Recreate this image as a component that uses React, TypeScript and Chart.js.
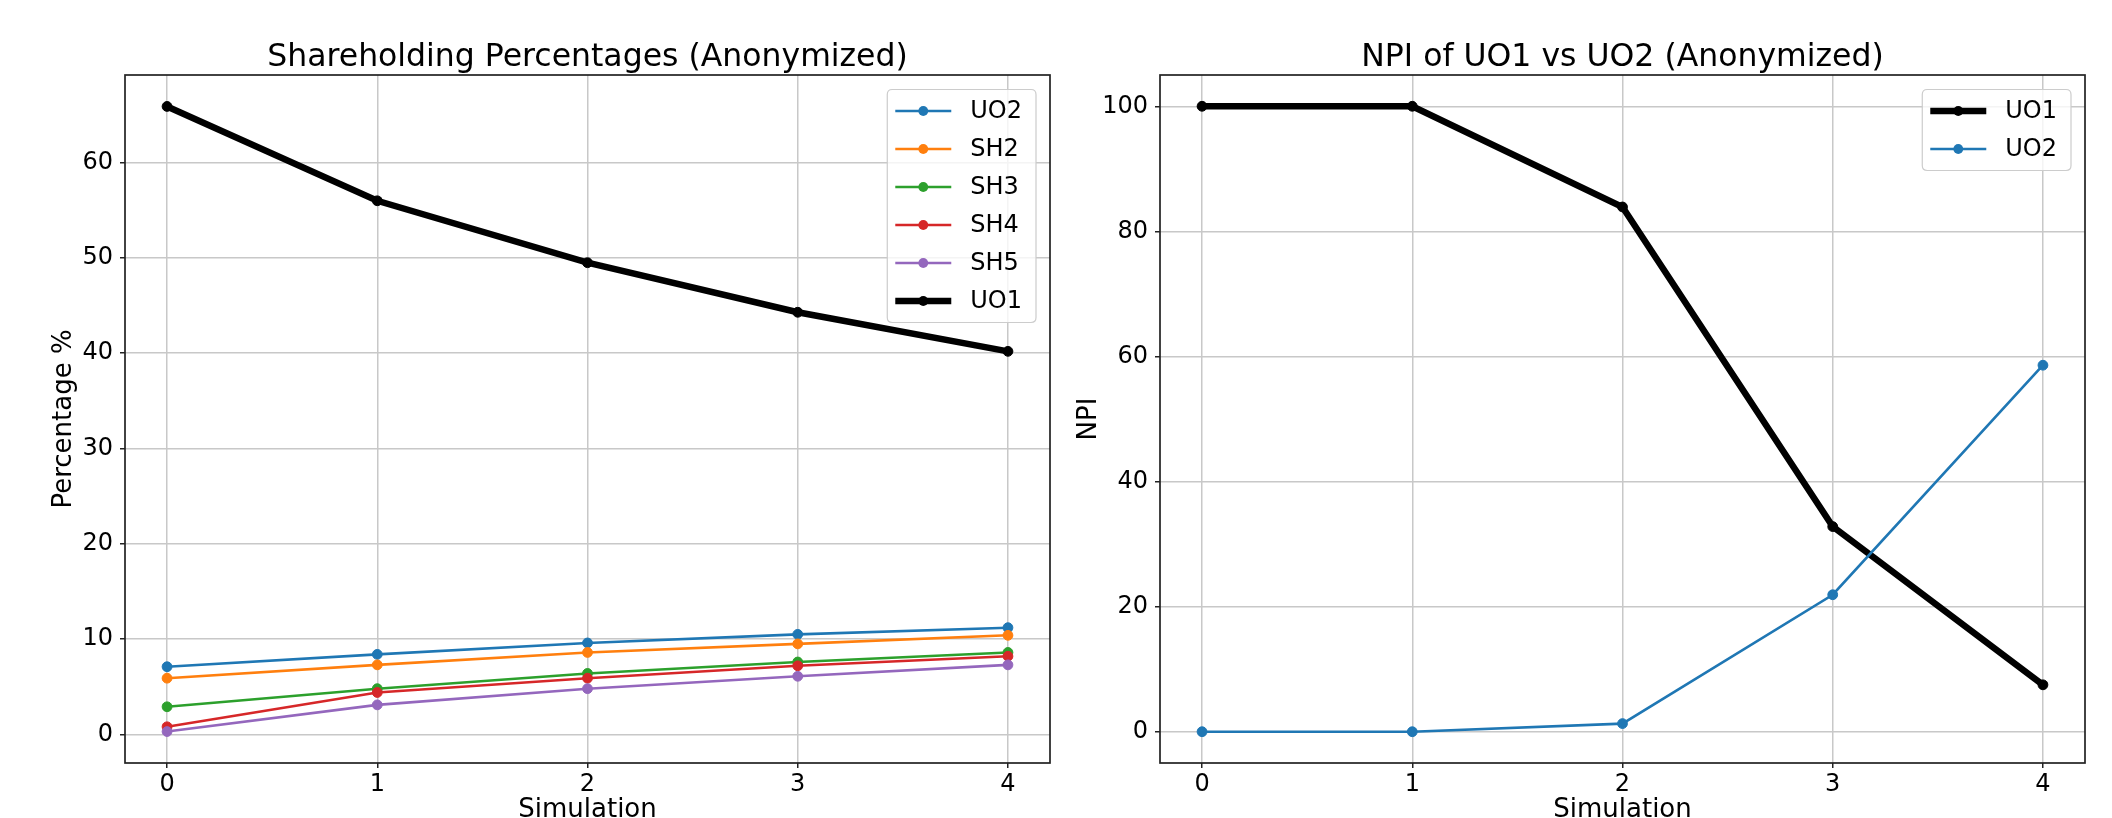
import React, { useEffect, useRef } from "react";
import { Chart, registerables } from "chart.js";

Chart.register(...registerables);
Chart.defaults.font.family = '"DejaVu Sans", sans-serif';
Chart.defaults.color = "#000000";

// ---------- data ----------
const simulations = [0, 1, 2, 3, 4];

const uo2Share = [7.1, 8.4, 9.6, 10.5, 11.2];
const sh2Share = [5.9, 7.3, 8.6, 9.5, 10.4];
const sh3Share = [2.9, 4.8, 6.4, 7.6, 8.6];
const sh4Share = [0.8, 4.4, 5.9, 7.2, 8.2];
const sh5Share = [0.3, 3.1, 4.8, 6.1, 7.3];
const uo1Share = [65.9, 56.0, 49.5, 44.3, 40.2];

const uo1Npi = [100, 100, 83.9, 32.8, 7.5];
const uo2Npi = [0, 0, 1.3, 21.9, 58.6];

const xTickValues = [0, 1, 2, 3, 4];
const shareTickValues = [0, 10, 20, 30, 40, 50, 60];
const npiTickValues = [0, 20, 40, 60, 80, 100];

const shareLabels = ["UO2", "SH2", "SH3", "SH4", "SH5", "UO1"];
const npiLabels = ["UO1", "UO2"];

// ---------- styles ----------
const COLORS: Record<string, string> = {
  UO2: "#1f77b4",
  SH2: "#ff7f0e",
  SH3: "#2ca02c",
  SH4: "#d62728",
  SH5: "#9467bd",
  UO1: "#000000",
};
const GRID = "#c8c8c8";
const SPINE = "#222222";

const toPoints = (ys: number[]) => simulations.map((x, i) => ({ x, y: ys[i] }));

function makeDataset(label: string, ys: number[], idx: number, n: number) {
  const thick = label === "UO1";
  const c = COLORS[label];
  return {
    label,
    data: toPoints(ys),
    borderColor: c,
    backgroundColor: c,
    borderWidth: thick ? 6.5 : 2.6,
    pointRadius: 4.9,
    pointBorderWidth: 1,
    pointBorderColor: c,
    pointBackgroundColor: c,
    tension: 0,
    order: n - idx,
  };
}

const framePlugin = {
  id: "mplFrame",
  afterDatasetsDraw(chart: any) {
    const { ctx, chartArea: a } = chart;
    ctx.save();
    ctx.strokeStyle = SPINE;
    ctx.lineWidth = 1.7;
    ctx.strokeRect(a.left, a.top, a.right - a.left, a.bottom - a.top);
    ctx.restore();
  },
};

const legendPlugin = {
  id: "mplLegend",
  afterDraw(chart: any) {
    const { ctx, chartArea: a } = chart;
    const ds = chart.data.datasets;
    const fontSize = 24;
    const rowH = 38;
    const textOffset = 83;
    const padRight = 14;
    const padV = 21.5;
    ctx.save();
    ctx.font = `${fontSize}px "DejaVu Sans"`;
    const maxW = Math.max(...ds.map((d: any) => ctx.measureText(d.label).width));
    const boxW = textOffset + maxW + padRight;
    const boxH = padV * 2 + rowH * (ds.length - 1);
    const right = a.right - 14;
    const left = right - boxW;
    const top = a.top + 14.5;
    const r = 5;
    ctx.beginPath();
    ctx.moveTo(left + r, top);
    ctx.lineTo(right - r, top);
    ctx.quadraticCurveTo(right, top, right, top + r);
    ctx.lineTo(right, top + boxH - r);
    ctx.quadraticCurveTo(right, top + boxH, right - r, top + boxH);
    ctx.lineTo(left + r, top + boxH);
    ctx.quadraticCurveTo(left, top + boxH, left, top + boxH - r);
    ctx.lineTo(left, top + r);
    ctx.quadraticCurveTo(left, top, left + r, top);
    ctx.closePath();
    ctx.fillStyle = "rgba(255,255,255,0.8)";
    ctx.fill();
    ctx.strokeStyle = "#cccccc";
    ctx.lineWidth = 1.2;
    ctx.stroke();
    ds.forEach((d: any, i: number) => {
      const y = top + padV + i * rowH;
      ctx.beginPath();
      ctx.strokeStyle = d.borderColor;
      ctx.lineWidth = d.borderWidth;
      ctx.moveTo(left + 8, y);
      ctx.lineTo(left + 64, y);
      ctx.stroke();
      ctx.beginPath();
      ctx.fillStyle = d.pointBackgroundColor;
      ctx.arc(left + 36, y, d.pointRadius, 0, Math.PI * 2);
      ctx.fill();
      ctx.fillStyle = "#000";
      ctx.textBaseline = "middle";
      ctx.textAlign = "left";
      ctx.fillText(d.label, left + textOffset, y + 1);
    });
    ctx.restore();
  },
};

function makeConfig(
  title: string,
  yTitle: string,
  datasets: any[],
  yMin: number,
  yMax: number,
  yTicks: number[],
  yAxisWidth: number,
  yTitlePad: number,
  padRight: number
) {
  return {
    type: "line",
    data: { datasets },
    options: {
      animation: false,
      responsive: false,
      devicePixelRatio: 1,
      layout: { padding: { left: 0, right: padRight, top: 0, bottom: 0 } },
      plugins: {
        legend: { display: false },
        tooltip: { enabled: false },
        title: {
          display: true,
          text: title,
          fullSize: false,
          color: "#000",
          font: { size: 31.5, weight: "normal", lineHeight: 1.2 },
          padding: { top: 39.2, bottom: -2 },
        },
      },
      scales: {
        x: {
          type: "linear",
          min: -0.2,
          max: 4.2,
          afterBuildTicks: (s: any) => {
            s.ticks = xTickValues.map((v) => ({ value: v }));
          },
          afterFit: (s: any) => {
            s.height = 55;
          },
          grid: {
            color: GRID,
            lineWidth: 1.5,
            drawTicks: true,
            tickLength: 5,
            tickColor: SPINE,
            tickWidth: 1.5,
          },
          border: { display: false },
          ticks: {
            color: "#000",
            font: { size: 24 },
            padding: 2,
            maxRotation: 0,
            autoSkip: false,
            callback: (v: any) => String(v),
          },
          title: {
            display: true,
            text: "Simulation",
            color: "#000",
            font: { size: 26 },
            padding: { top: 0, bottom: -8 },
          },
        },
        y: {
          type: "linear",
          min: yMin,
          max: yMax,
          afterBuildTicks: (s: any) => {
            s.ticks = yTicks.map((v) => ({ value: v }));
          },
          afterFit: (s: any) => {
            s.width = yAxisWidth;
          },
          grid: {
            color: GRID,
            lineWidth: 1.5,
            drawTicks: true,
            tickLength: 5,
            tickColor: SPINE,
            tickWidth: 1.5,
          },
          border: { display: false },
          ticks: {
            color: "#000",
            font: { size: 24 },
            padding: 7,
            autoSkip: false,
            callback: (v: any) => String(v),
          },
          title: {
            display: true,
            text: yTitle,
            color: "#000",
            font: { size: 26 },
            padding: { top: yTitlePad, bottom: 0 },
          },
        },
      },
    },
    plugins: [framePlugin, legendPlugin],
  };
}

function ChartCanvas({ config, left }: { config: any; left: number }) {
  const ref = useRef<HTMLCanvasElement>(null);
  useEffect(() => {
    if (!ref.current) return;
    const chart = new Chart(ref.current, config);
    return () => chart.destroy();
  }, [config]);
  return (
    <canvas
      ref={ref}
      width={1056}
      height={818}
      style={{ position: "absolute", left, top: 0, width: 1056, height: 818, display: "block" }}
    />
  );
}

const shareSeries = [uo2Share, sh2Share, sh3Share, sh4Share, sh5Share, uo1Share];
const npiSeries = [uo1Npi, uo2Npi];

const leftConfig = makeConfig(
  "Shareholding Percentages (Anonymized)",
  "Percentage %",
  shareLabels.map((l, i) => makeDataset(l, shareSeries[i], i, shareLabels.length)),
  -3.0,
  69.2,
  shareTickValues,
  125,
  48.4,
  6
);

const rightConfig = makeConfig(
  "NPI of UO1 vs UO2 (Anonymized)",
  "NPI",
  npiLabels.map((l, i) => makeDataset(l, npiSeries[i], i, npiLabels.length)),
  -5,
  105,
  npiTickValues,
  104,
  17.4,
  27
);

export default function App() {
  return (
    <div
      style={{
        position: "absolute",
        left: 0,
        top: 0,
        width: 2112,
        height: 818,
        overflow: "hidden",
        background: "#ffffff",
      }}
    >
      <ChartCanvas config={leftConfig} left={0} />
      <ChartCanvas config={rightConfig} left={1056} />
    </div>
  );
}
